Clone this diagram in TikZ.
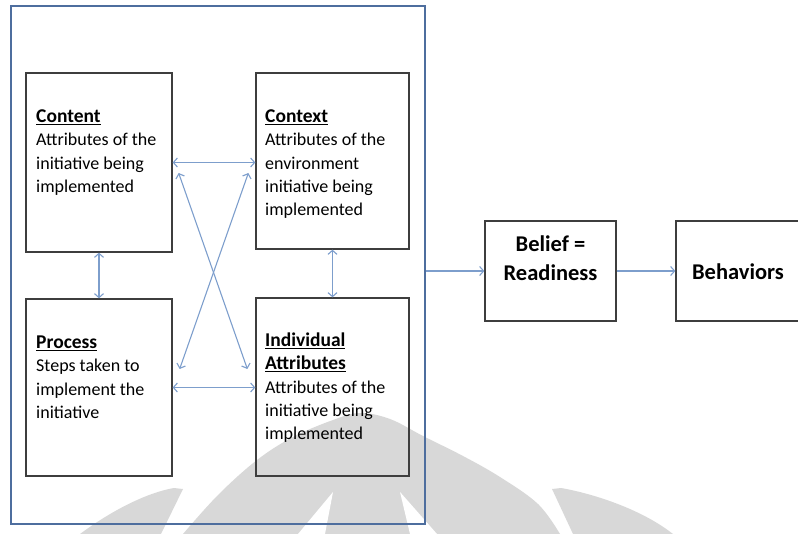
\documentclass[tikz,border=0pt]{standalone}
\usepackage{fontspec}
\setmainfont{Carlito}
\usetikzlibrary{arrows.meta,calc}
\definecolor{frameblue}{RGB}{78,110,158}
\definecolor{arrowblue}{RGB}{125,158,204}
\definecolor{boxgray}{RGB}{62,62,62}
\definecolor{wmgray}{RGB}{216,216,216}
\newcommand{\boxtitle}[1]{\underline{\fontsize{19.5}{23.4}\selectfont\textbf{#1}}}
\begin{document}
\begin{tikzpicture}[x=1pt,y=-1pt,
  boxnode/.style={draw=boxgray,line width=1.3pt,inner sep=0pt,rectangle},
  txt/.style={align=left,inner sep=0pt,anchor=north west,font=\fontsize{18}{23.4}\selectfont},
  bigtxt/.style={align=center,inner sep=0pt,font=\fontsize{22.5}{29.5}\selectfont\bfseries},
  link/.style={draw=arrowblue,line width=1.1pt,{Straight Barb[length=4pt,width=9pt]}-{Straight Barb[length=4pt,width=9pt]}},
  onelink/.style={draw=arrowblue,line width=1.1pt,-{Straight Barb[length=4pt,width=9pt]}}]
\useasboundingbox (0,0) rectangle (798,534);
% watermark
\fill[wmgray] plot[smooth,tension=0.6] coordinates {(183,534) (218,495) (257,460) (293,437) (333,420) (360,413) (390,419) (423,436) (463,456) (500,477) (538,504) (560,534)} -- cycle;
\fill[white] (298,534) -- (333,492) -- (325,534) -- cycle;
\fill[white] (410,534) -- (400,492) -- (437,534) -- cycle;
\fill[wmgray] (80,534) .. controls (115,508) and (150,492) .. (174,488) -- (183,489) -- (161,534) -- cycle;
\fill[wmgray] (552,489) -- (561,488) .. controls (590,493) and (640,508) .. (673,534) -- (573,534) -- cycle;
% frame
\node[draw=frameblue,line width=2.2pt,inner sep=0pt,minimum width=414pt,minimum height=518pt] (frame) at (218,265) {};
% boxes
\node[boxnode,minimum width=146pt,minimum height=179pt] (content) at (99,162.5) {};
\node[boxnode,minimum width=153pt,minimum height=176pt] (context) at (332.5,161) {};
\node[boxnode,minimum width=146pt,minimum height=177pt] (process) at (99,387.5) {};
\node[boxnode,minimum width=153pt,minimum height=178pt] (indiv) at (332.5,387) {};
\node[boxnode,minimum width=131pt,minimum height=100pt] (belief) at (550.5,271) {};
\node[boxnode,minimum width=129pt,minimum height=100pt] (behav) at (740.5,271) {};
% texts
\node[txt] (contentT) at (36,105.7) {\strut\boxtitle{Content}\\Attributes of the\\initiative being\\implemented};
\node[txt] (contextT) at (265,105.7) {\strut\boxtitle{Context}\\Attributes of the\\environment\\initiative being\\implemented};
\node[txt] (processT) at (36,331.7) {\strut\boxtitle{Process}\\Steps taken to\\implement the\\initiative};
\node[txt] (indivT) at (265,329.7) {\strut\boxtitle{Individual}\\\boxtitle{Attributes}\\Attributes of the\\initiative being\\implemented};
\node[bigtxt] (beliefT) at (550.5,258) {Belief =\\Readiness};
\node[bigtxt] (behavT) at (738,272) {Behaviors};
% connectors
\draw[link] (content.east) -- (context.west |- content.east);
\draw[link] (content.south) -- (process.north);
\draw[link] (context.south) -- (indiv.north);
\draw[link] (process.east) -- (indiv.west |- process.east);
\coordinate (d1a) at ($(content.east)+(6,10.5)$);
\coordinate (d1b) at ($(indiv.west)+(-8,-18)$);
\coordinate (d2a) at ($(context.west)+(-7,12)$);
\coordinate (d2b) at ($(process.east)+(7,-18.5)$);
\draw[link] (d1a) -- (d1b);
\draw[link] (d2a) -- (d2b);
\draw[onelink] (frame.east |- belief.west) -- (belief.west);
\draw[onelink] (belief.east) -- (behav.west);
\end{tikzpicture}
\end{document}
